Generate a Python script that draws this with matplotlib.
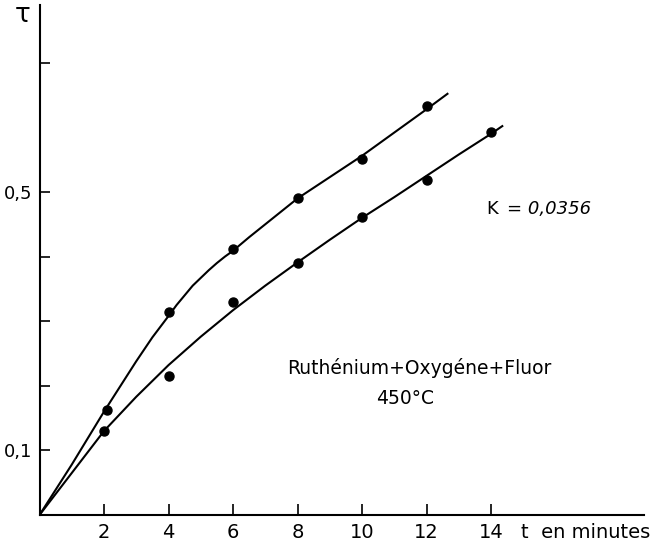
import numpy as np
import matplotlib
matplotlib.use('Agg')
import matplotlib.pyplot as plt

# measured points (t in minutes, tau)
t_upper = [2.1, 4, 6, 8, 10, 12]
tau_upper = [0.163, 0.315, 0.411, 0.491, 0.551, 0.633]
t_lower = [2, 4, 6, 8, 10, 12, 14]
tau_lower = [0.130, 0.215, 0.330, 0.390, 0.461, 0.519, 0.593]

# hand drawn curves
curve_up_t = [0, 1, 2, 3, 3.5, 4, 4.25, 4.5, 4.75, 5, 5.25, 5.5, 5.75, 6, 6.5, 7, 8, 9, 10, 11, 12, 12.65]
curve_up = [0, 0.078, 0.16, 0.238, 0.275, 0.308, 0.325, 0.34, 0.355, 0.367, 0.379, 0.39, 0.4, 0.409, 0.43, 0.45,
            0.49, 0.523, 0.556, 0.592, 0.628, 0.652]
curve_low_t = [0, 1, 2, 3, 4, 5, 6, 7, 8, 9, 10, 11, 12, 13, 14, 14.35]
curve_low = [0, 0.065, 0.13, 0.183, 0.232, 0.276, 0.317, 0.355, 0.391, 0.426, 0.46, 0.492, 0.525, 0.558, 0.59, 0.602]

x_ticks = [2, 4, 6, 8, 10, 12, 14]
y_ticks = [0.1, 0.2, 0.3, 0.4, 0.5, 0.7]
y_labels = ['0,1', '', '', '', '0,5', '']

W, H = 652, 547
fig = plt.figure(figsize=(W / 100, H / 100), dpi=100)
# axes box in pixels: origin (39.5, 515), right end 644, top 5
ax = fig.add_axes([39.5 / W, (H - 515) / H, (644 - 39.5) / W, (515 - 5) / H])
ax.set_xlim(0, (644 - 39.5) / 32.25)
ax.set_ylim(0, (515 - 5) / 646)

ax.plot(curve_up_t, curve_up, color='black', lw=1.5, solid_joinstyle='round')
ax.plot(curve_low_t, curve_low, color='black', lw=1.5, solid_joinstyle='round')
ax.plot(t_upper, tau_upper, 'o', color='black', ms=6.5)
ax.plot(t_lower, tau_lower, 'o', color='black', ms=6.5)

for s in ['top', 'right']:
    ax.spines[s].set_visible(False)
for s in ['left', 'bottom']:
    ax.spines[s].set_linewidth(1.5)

ax.set_xticks(x_ticks)
ax.set_xticklabels([str(v) for v in x_ticks], fontsize=14)
ax.set_yticks(y_ticks)
ax.set_yticklabels(y_labels, fontsize=13)
ax.tick_params(axis='x', direction='in', length=8, width=1.2, pad=6)
ax.tick_params(axis='y', direction='in', length=7, width=1.2, pad=5)

fig.text(23 / W, 1 - 15 / H, 'τ', fontsize=19, ha='center', va='center')
fig.text(521 / W, 1 - 532 / H, 't  en minutes', fontsize=14, ha='left', va='center')
fig.text(486 / W, 1 - 209 / H, 'K', fontsize=13, ha='left', va='center')
fig.text(507 / W, 1 - 209 / H, '= 0,0356', fontsize=13, ha='left', va='center', style='italic')
fig.text(419 / W, 1 - 368 / H, 'Ruthénium+Oxygéne+Fluor', fontsize=13.5, ha='center', va='center')
fig.text(405 / W, 1 - 398 / H, '450°C', fontsize=13.5, ha='center', va='center')

fig.savefig('out.png', dpi=100)
